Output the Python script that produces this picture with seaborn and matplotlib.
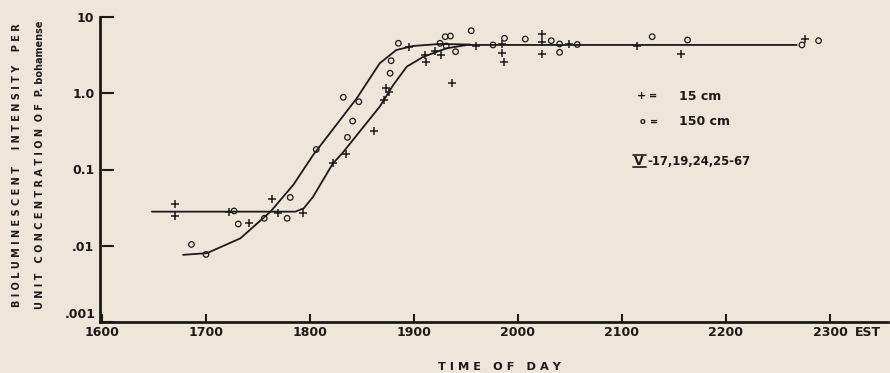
import numpy as np
import pandas as pd
import matplotlib
matplotlib.use('Agg')
import matplotlib.pyplot as plt
from matplotlib.lines import Line2D
import seaborn as sns

# time of day in decimal hours, relative bioluminescent intensity
t_15 = [16.70, 16.70, 17.22, 17.41, 17.63, 17.69, 17.93, 18.22, 18.35, 18.62,
        18.71, 18.73, 18.76, 18.95, 19.11, 19.12, 19.20, 19.26, 19.37, 19.60,
        19.85, 19.85, 19.87, 20.23, 20.23, 20.23, 20.49, 21.14, 21.57, 22.76]
v_15 = [0.035, 0.0245, 0.028, 0.020, 0.041, 0.027, 0.027, 0.123, 0.158, 0.32,
        0.81, 1.16, 1.03, 4.1, 3.2, 2.6, 3.6, 3.2, 1.37, 4.2,
        4.4, 3.4, 2.55, 5.9, 4.7, 3.3, 4.4, 4.2, 3.3, 5.1]

t_150 = [16.86, 17.00, 17.27, 17.31, 17.56, 17.78, 17.81, 18.06, 18.36, 18.41,
         18.32, 18.47, 18.77, 18.78, 18.85, 19.25, 19.30, 19.35, 19.31, 19.40,
         19.55, 19.76, 19.87, 20.07, 20.32, 20.40, 20.40, 20.57, 21.29, 21.63,
         22.73, 22.89]
v_150 = [0.0104, 0.0077, 0.0286, 0.0193, 0.0229, 0.0229, 0.043, 0.183, 0.264, 0.432,
         0.885, 0.774, 1.83, 2.67, 4.52, 4.52, 5.52, 5.63, 4.17, 3.51,
         6.61, 4.30, 5.26, 5.14, 4.89, 4.43, 3.44, 4.36, 5.52, 4.99,
         4.30, 4.89]

# hand drawn curves
c15_t = [16.48, 17.86, 17.94, 18.03, 18.22, 18.31, 18.67, 18.80, 18.93, 19.09, 19.31, 19.51, 22.68]
c15_v = [0.028, 0.028, 0.031, 0.044, 0.120, 0.163, 0.667, 1.28, 2.23, 3.01, 3.88, 4.30, 4.30]
c150_t = [16.78, 17.01, 17.33, 17.62, 17.84, 18.03, 18.45, 18.67, 18.83, 18.99, 19.25, 19.54]
c150_v = [0.0076, 0.0080, 0.0125, 0.028, 0.063, 0.155, 0.86, 2.47, 3.69, 4.17, 4.43, 4.35]

x_ticks = [16, 17, 18, 19, 20, 21, 22, 23]
x_labels = ['1600', '1700', '1800', '1900', '2000', '2100', '2200', '2300']
y_ticks = [0.001, 0.01, 0.1, 1.0, 10]
y_labels = ['', '.01', '0.1', '1.0', '10']

paper = '#eee6d8'
ink = '#1c1a18'

sns.set_style('ticks')
plt.rcParams['font.family'] = ['DejaVu Sans']

fig = plt.figure(figsize=(8.9, 3.73), dpi=100, facecolor=paper)
W, H = 890, 373
ax = fig.add_axes([100 / W, 51 / H, 788 / W, 305 / H])
ax.set_facecolor(paper)

d15 = pd.DataFrame({'t': t_15, 'v': v_15})
d150 = pd.DataFrame({'t': t_150, 'v': v_150})
sns.lineplot(x=c15_t, y=c15_v, sort=False, color=ink, lw=1.3, ax=ax)
sns.lineplot(x=c150_t, y=c150_v, sort=False, color=ink, lw=1.3, ax=ax)
sns.scatterplot(data=d15, x='t', y='v', marker='+', s=28, color=ink, linewidth=1.1, ax=ax)
ax.scatter(d150['t'], d150['v'], marker='o', s=16, facecolors='none', edgecolors=ink, linewidths=0.9, zorder=3)

ax.set_yscale('log')
ax.set_xlim(16 - 2 / 104, 16 + 786 / 104)
ax.set_ylim(0.001, 10)
ax.set_xticks(x_ticks)
ax.set_xticklabels(x_labels)
ax.set_yticks(y_ticks)
ax.set_yticklabels(y_labels)
ax.minorticks_off()
ax.tick_params(axis='y', direction='in', length=10, width=1.5, colors=ink, labelsize=9, pad=4)
ax.tick_params(axis='x', direction='in', length=6, width=1.5, colors=ink, labelsize=9, pad=3)
for lab in ax.get_xticklabels() + ax.get_yticklabels():
    lab.set_fontweight('bold')
sns.despine(ax=ax)
for s in ['left', 'bottom']:
    ax.spines[s].set_linewidth(2)
    ax.spines[s].set_color(ink)
ax.set_xlabel('')
ax.set_ylabel('')

def ftext(x, y, s, **kw):
    fig.text(x / W, 1 - y / H, s, color=ink, fontweight='bold', **kw)

ftext(96, 314, '.001', fontsize=9, ha='right', va='center')
ftext(868, 332, 'EST', fontsize=9, ha='center', va='center')
ftext(499, 367, 'T I M E   O F   D A Y', fontsize=8.2, ha='center', va='center')
ftext(17, 165, 'B I O L U M I N E S C E N T     I N T E N S I T Y    P E R',
      fontsize=7, rotation=90, ha='center', va='center')
ftext(40, 165, 'U N I T   C O N C E N T R A T I O N  O F  P. bohamense',
      fontsize=7, rotation=90, ha='center', va='center')

ftext(642, 96, '+', fontsize=8, ha='center', va='center')
ftext(653, 96, '=', fontsize=7, ha='center', va='center')
ftext(679, 96, '15 cm', fontsize=9, ha='left', va='center')
ftext(642, 121.5, 'o', fontsize=6, ha='center', va='center')
ftext(654, 121.5, '=', fontsize=7, ha='center', va='center')
ftext(679, 121.5, '150 cm', fontsize=9, ha='left', va='center')
ftext(639, 161, 'V', fontsize=9, ha='center', va='center')
ftext(647, 161, '-17,19,24,25-67', fontsize=8.4, ha='left', va='center')
# bars of the roman numeral
for yb in (155.5, 166.5):
    fig.add_artist(Line2D([632.5 / W, 645.5 / W], [1 - yb / H, 1 - yb / H], color=ink, lw=1.2))

fig.savefig('out.png', dpi=100, facecolor=paper)
